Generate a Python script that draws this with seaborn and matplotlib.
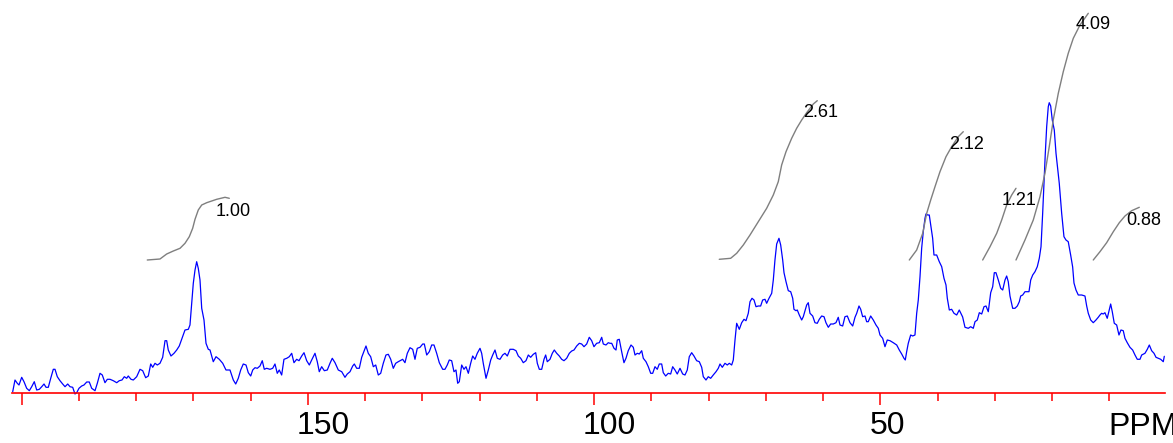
import matplotlib
matplotlib.use("Agg")
import matplotlib.pyplot as plt
import matplotlib.transforms as mtrans
import seaborn as sns

# ---------------- data ----------------
spectrum_ppm = [
    201.57, 201.17, 200.77, 200.47, 200.0, 199.6, 199.13, 198.67, 198.25, 197.8,
    197.38, 196.92, 196.5, 196.1, 195.75, 195.35, 194.93, 194.48, 194.18, 193.78,
    193.31, 192.84, 192.43, 191.96, 191.56, 191.09, 190.69, 190.39, 189.99, 189.52,
    189.12, 188.64, 188.19, 187.77, 187.19, 186.79, 186.32, 185.92, 185.45, 185.04,
    184.57, 184.0, 183.4, 182.95, 182.48, 182.07, 181.66, 181.38, 180.9, 180.5,
    179.91, 179.33, 178.86, 178.34, 177.88, 177.46, 177.11, 176.71, 176.31, 175.84,
    175.37, 174.96, 174.67, 174.39, 173.92, 173.39, 172.92, 172.47, 172.05, 171.47,
    170.89, 170.6, 170.3, 170.02, 169.72, 169.43, 169.15, 168.85, 168.55, 168.15,
    167.8, 167.4, 167.1,
    166.53, 166.05, 165.48, 164.88, 164.31, 163.61, 163.03, 162.61, 162.16, 161.74,
    161.29, 160.81, 160.41, 159.99, 159.64, 159.24, 158.84, 158.37, 157.97, 157.62,
    157.2, 156.62, 156.15, 155.75, 155.35, 155.0, 154.58, 154.18, 153.7, 153.25,
    152.83, 152.43, 151.96, 151.55, 151.08, 150.68, 150.21, 149.75, 149.34, 148.76,
    148.36, 148.01, 147.59, 147.13, 146.61, 146.14, 145.74, 145.26, 144.69, 144.09,
    143.52, 143.12, 142.64, 142.17, 141.89, 141.47, 141.02, 140.6, 140.15, 139.85,
    139.45, 139.03, 138.57, 138.15, 137.7, 137.28, 136.83, 136.36, 135.95, 135.53,
    135.08, 134.66, 134.21,
    133.44, 133.04, 132.63, 132.16, 131.69, 131.29, 130.89, 130.41, 129.94, 129.66,
    129.24, 128.79, 128.37, 127.97, 127.5, 127.04, 126.45, 126.05, 125.65, 125.3,
    124.88, 124.48, 124.13, 123.83, 123.55, 123.13, 122.73, 122.38, 121.97, 121.56,
    121.21, 120.81, 120.41, 119.93, 119.64, 119.36, 118.88, 118.48, 118.06, 117.71,
    117.31, 116.91, 116.44, 115.97, 115.57, 115.16, 114.69, 114.12, 113.64, 113.24,
    112.82, 112.37, 111.9, 111.49, 111.08, 110.62, 110.2, 109.92, 109.57, 109.15,
    108.75, 108.46, 108.18, 107.7, 107.3, 106.95, 106.53, 106.08, 105.66, 105.26,
    104.79, 104.33, 103.91, 103.51, 103.04, 102.58, 102.17, 101.76, 101.29, 100.84,
    100.42, 100.02, 99.55, 99.09, 98.67, 98.39, 97.92, 97.52, 97.22,
    96.92, 96.52, 96.17, 95.95, 95.6, 95.18, 94.78, 94.43, 94.03, 93.55,
    93.15, 92.85, 92.45, 92.1, 91.68, 91.4, 90.93, 90.53, 90.11, 89.76,
    89.36, 88.96, 88.61, 88.19, 87.91, 87.49, 87.04, 86.62, 86.27, 85.87,
    85.47, 84.99, 84.52, 84.12, 83.72, 83.37, 82.95, 82.55, 82.08, 81.62,
    81.2, 80.92, 80.45, 80.05, 79.63, 79.18, 78.7, 78.3, 78.0, 77.6,
    77.13, 76.73, 76.38, 75.96, 75.68, 75.38, 75.09, 74.63, 74.21, 73.81,
    73.46, 73.06, 72.76, 72.41, 72.06, 71.71, 71.31, 70.9, 70.55, 70.14,
    69.85, 69.44, 68.97, 68.69, 68.4, 68.1, 67.7, 67.4, 67.05, 66.82,
    66.47, 66.07, 65.65, 65.3, 65.08, 64.73, 64.5, 64.15, 63.73, 63.45,
    63.15, 62.86, 62.58, 62.28,
    61.81, 61.41, 61.01, 60.66, 60.24, 59.83, 59.49, 59.08, 58.67, 58.21,
    57.74, 57.34, 57.04, 56.57, 56.17, 55.76, 55.29, 54.82, 54.42, 54.12,
    53.72, 53.42, 53.08, 52.67, 52.38, 52.1, 51.68, 51.22, 50.75, 50.35,
    50.05, 49.58, 49.18, 48.78, 48.3, 47.73, 47.13, 46.68, 46.26, 45.86,
    45.63, 45.39, 45.11, 44.69, 44.34, 43.94, 43.64, 43.36, 43.06, 42.77,
    42.49, 42.19, 42.02, 41.72, 41.44, 41.14, 40.85, 40.62, 40.15, 39.69,
    39.27, 38.87, 38.52, 38.29, 37.94, 37.53, 37.12, 36.65, 36.2,
    35.61, 35.2, 34.62, 34.21, 33.75, 33.45, 33.05, 32.7, 32.28, 31.88,
    31.53, 31.13, 30.71, 30.36, 30.08, 29.79, 29.38, 28.96, 28.61, 28.21,
    27.92, 27.64, 27.34, 26.87, 26.47, 26.06, 25.71, 25.47, 25.12, 24.72,
    24.42, 24.02, 23.72, 23.37, 22.97, 22.57, 22.22, 21.92, 21.63, 21.4,
    21.17, 20.93, 20.65, 20.48, 20.23, 19.95, 19.6, 19.3, 19.01, 18.73,
    18.31, 17.91, 17.56, 17.16, 16.74, 16.39,
    16.16, 15.81, 15.41, 14.81, 14.24, 13.94, 13.66, 13.24, 12.79, 12.32,
    11.92, 11.62, 11.33, 11.05, 10.75, 10.35, 10.0, 9.75, 9.47, 9.12,
    8.7, 8.3, 7.95, 7.55, 7.25, 6.85, 6.38, 5.91, 5.5, 5.1,
    4.63, 4.33, 3.76, 3.35, 3.0, 2.59, 2.18, 1.83, 1.43, 1.01,
    0.56, 0.38,
]
spectrum_int = [
    1.3, 13, 9.7, 8, 15.7, 11.3, 4.7, 2.3, 6.3, 11.3,
    3, 3.7, 6.3, 9, 5.7, 5.7, 14.7, 23.7, 23.7, 16.3,
    12.3, 9, 6.3, 9, 6.3, 5.7, -1, 0.3, 4.7, 7,
    8, 11, 11, 4.7, 2.3, 9.7, 19.7, 18, 10.3, 13.7,
    13.7, 12.3, 10.3, 12.3, 13, 16.3, 14.7, 17, 13.7, 13,
    16.3, 23.7, 22.3, 15.3, 17, 29, 25.7, 29.7, 28, 29.7,
    35.7, 52.3, 52.3, 43, 37, 39.7, 43, 47, 53.7, 63,
    63.7, 68, 89.7, 109.7, 123, 131.3, 124.7, 113, 84.7, 73,
    49.7, 43.7, 43,
    31.3, 36.3, 33.7, 29.7, 23, 23, 13, 9, 14.7, 23,
    29, 28, 20.3, 17, 23, 25.3, 24.7, 27, 32.3, 23.7,
    24.7, 23.7, 24.7, 29, 19.7, 23, 18, 33.7, 34.7, 36.3,
    39.7, 30.3, 33.7, 32.3, 37, 40.3, 32.3, 28, 33, 39.7,
    31.3, 21.3, 26.3, 22.3, 23, 29.7, 34.7, 30.3, 23, 21.3,
    15.7, 19, 21.3, 27, 29, 24.7, 24.7, 35.7, 42.3, 47,
    39.7, 36.3, 26.3, 28, 18, 19.7, 29.7, 38, 38.7, 33.7,
    24.7, 29.7, 31.3,
    33.7, 30.3, 39.7, 45.3, 43.7, 33.7, 44.7, 45.7, 49, 49,
    38, 41.3, 48, 48, 39.7, 30.3, 23.7, 23.7, 28, 33,
    32.3, 21.3, 23, 9.7, 11.3, 28, 23.7, 26.3, 19.7, 29.7,
    37, 33.7, 39.7, 44.7, 39.7, 29.7, 14.7, 23, 33, 38,
    43, 34.7, 33.7, 38, 39.7, 37, 43.7, 43.7, 42.3, 37,
    34.7, 30.3, 32.3, 38, 35.7, 38.7, 40.3, 29.7, 23.7, 23.7,
    33.7, 38, 31.3, 33.7, 39.7, 43, 39.7, 37, 33.7, 32.3,
    34.7, 39.7, 42, 43, 47, 49.7, 49, 46.3, 49, 55.7,
    52.3, 46.3, 49.7, 50.3, 55.7, 49, 48, 50.3, 49.7,
    49.7, 44.7, 43, 53, 53.7, 41.3, 30.3, 34.7, 42.3, 48,
    45.7, 38, 39.7, 39, 42.3, 34.7, 31.3, 26.3, 19.7, 19.7,
    26.3, 23.7, 29, 29, 20.3, 17, 19.7, 19, 26.3, 23,
    19, 24.7, 19, 18, 23, 36.3, 40.3, 37, 32.3, 31.3,
    25.7, 16.3, 13, 16.3, 14.7, 18, 21.3, 24.7, 29, 25.7,
    29.7, 28, 29.7, 28, 33, 53, 69.7, 63.7, 70.3, 73.7,
    72.3, 79.7, 91.3, 94.7, 93, 86.3, 87, 87, 93, 93.7,
    89.7, 94.7, 99.7, 113, 133, 149, 154.7, 148, 133, 120.3,
    111.3, 102.3, 101.3, 94.7, 83.7, 82.3, 83, 78, 73, 76.3,
    82.3, 88, 90.3, 79.7,
    77, 70.3, 69.7, 73.7, 77, 76.3, 70.3, 65.7, 69, 69,
    70.3, 75.7, 68, 67, 76.3, 77, 70.3, 67, 75.7, 79.7,
    87, 83.7, 76.3, 77, 71.3, 71.3, 77, 73, 68, 64.7,
    58, 54.7, 46.3, 53, 52.3, 50.3, 48, 43, 39, 34.7,
    33, 41.3, 49.7, 58, 57, 58, 79.7, 93, 116.3, 144.7,
    161.3, 174.7, 179, 178, 178, 166.3, 154.7, 138, 138, 131.3,
    126.3, 114.7, 108, 94.7, 83, 83.7, 79.7, 78, 83,
    76, 65.7, 64.7, 66.3, 64.7, 71.3, 73, 80.3, 79, 86.3,
    87, 81.3, 100.3, 106.3, 120.3, 120.3, 113, 104.7, 103, 113,
    117, 111.3, 97, 84.7, 84.7, 87, 91.3, 97, 98, 101.3,
    101.3, 101.3, 113, 118, 121.3, 126.3, 134.7, 146.3, 179.7, 209.7,
    239.7, 266.3, 286.3, 290.3, 287, 273, 263, 239.7, 224.7, 209.7,
    179.7, 156.3, 153, 151.3, 138, 126,
    110, 103, 98, 98, 97, 87, 79.7, 73, 70.3, 73,
    75.7, 78, 79.7, 79, 80.3, 74.7, 83, 89, 81.3, 69.7,
    68, 58, 63, 62.3, 54.7, 50.3, 45.7, 43, 38, 33.7,
    33.7, 38, 39.7, 43.7, 48, 42.3, 39.7, 35.7, 34.7, 33.7,
    31.3, 36.7,
]

# integral traces (ppm, height)
int1_ppm = [178.06, 175.84, 174.67, 173.51, 172.34, 171.47, 170.72, 170.13, 169.72,
            169.15, 168.55, 167.68, 165.93, 164.48, 163.73]
int1_val = [133, 134, 139, 142, 144.7, 149.7, 156.3, 164.7, 173.7,
            183, 188, 190.3, 193.7, 195.7, 194.7]
int2_ppm = [78.13, 76.14, 75.09, 73.93, 72.76, 71.31, 69.85, 68.69, 67.82, 67.23,
            66.47, 65.48, 64.61, 63.73, 62.86, 61.7, 61.01]
int2_val = [133.7, 134.7, 139.7, 148, 158, 171.3, 184.7, 198, 211.3, 228,
            241.3, 254.7, 264.7, 273, 280.3, 289, 292.3]
int3_ppm = [44.93, 43.64, 42.59, 41.89, 41.19, 40.44, 39.57, 38.52, 37.53, 36.37, 35.5]
int3_val = [133, 143, 159.7, 179.7, 193, 206.3, 221.3, 236.3, 246.3, 256.3, 261.3]
int4_ppm = [32.11, 30.83, 29.66, 28.79, 27.92, 27.04, 26.29]
int4_val = [133, 146.3, 159.7, 173, 188, 198, 204.7]
int5_ppm = [26.29, 24.72, 23.27, 22.1, 21.23, 20.48, 19.78, 18.9, 18.03, 17.16,
            16.28, 15.11, 13.66]
int5_val = [133, 153, 173, 196.3, 219.7, 246.3, 273, 299.7, 321.3, 339.7,
            354.7, 368, 379.7]
int6_ppm = [12.79, 11.62, 10.45, 9.29, 8.24, 7.25, 6.08, 4.75]
int6_val = [133, 141.3, 150.3, 161.3, 170.3, 177, 182.3, 185.7]

integral_labels = ["1.00", "2.61", "2.12", "1.21", "4.09", "0.88"]
label_ppm = [166.05, 63.56, 37.95, 28.79, 15.81, 6.96]
label_val = [182, 281, 249, 193, 369, 173]

major_ticks = [200, 150, 100, 50]
major_labels = ["", "150", "100", "50"]
minor_ticks = [190, 180, 170, 160, 140, 130, 120, 110, 90, 80, 70, 60, 40, 30, 20, 10]
axis_title = "PPM"

# ---------------- drawing ----------------
sns.set_style("white")
plt.rcParams["font.family"] = ["Liberation Sans", "DejaVu Sans"]

fig = plt.figure(figsize=(11.73, 4.43), dpi=100)
ax = fig.add_axes([0, 0, 1, 1])

sns.lineplot(x=spectrum_ppm, y=spectrum_int, ax=ax, color="#0000ff", lw=0.9,
             estimator=None, sort=False)
for xs, ys in [(int1_ppm, int1_val), (int2_ppm, int2_val), (int3_ppm, int3_val),
               (int4_ppm, int4_val), (int5_ppm, int5_val), (int6_ppm, int6_val)]:
    sns.lineplot(x=xs, y=ys, ax=ax, color="#7f7f7f", lw=1.0, estimator=None, sort=False)

for lab, xv, yv in zip(integral_labels, label_ppm, label_val):
    ax.text(xv, yv, lab, ha="left", va="center", fontsize=13, color="black")

ax.set_xlim(203.79, -1.14)
ax.set_ylim(-50, 393)

for s in ["top", "right", "left"]:
    ax.spines[s].set_visible(False)
ax.spines["bottom"].set_position(("data", 0))
ax.spines["bottom"].set_bounds(201.7, 0.26)
ax.spines["bottom"].set_color("red")
ax.spines["bottom"].set_linewidth(1.2)

ax.set_yticks([])
ax.set_xticks(major_ticks)
ax.set_xticklabels(major_labels)
ax.set_xticks(minor_ticks, minor=True)
ax.tick_params(axis="x", which="major", direction="out", length=8.6, width=1.1,
               color="red", labelsize=23, labelcolor="black", pad=4.6, bottom=True)
ax.tick_params(axis="x", which="minor", direction="out", length=5.8, width=1.1,
               color="red", bottom=True)
shift = mtrans.ScaledTranslation(-11 / 100, 0, fig.dpi_scale_trans)
for lab in ax.get_xticklabels():
    lab.set_horizontalalignment("left")
    lab.set_transform(lab.get_transform() + shift)

ax.text(10.22, -42, axis_title, ha="left", va="baseline", fontsize=23, color="black")

fig.savefig("out.png", dpi=100)
